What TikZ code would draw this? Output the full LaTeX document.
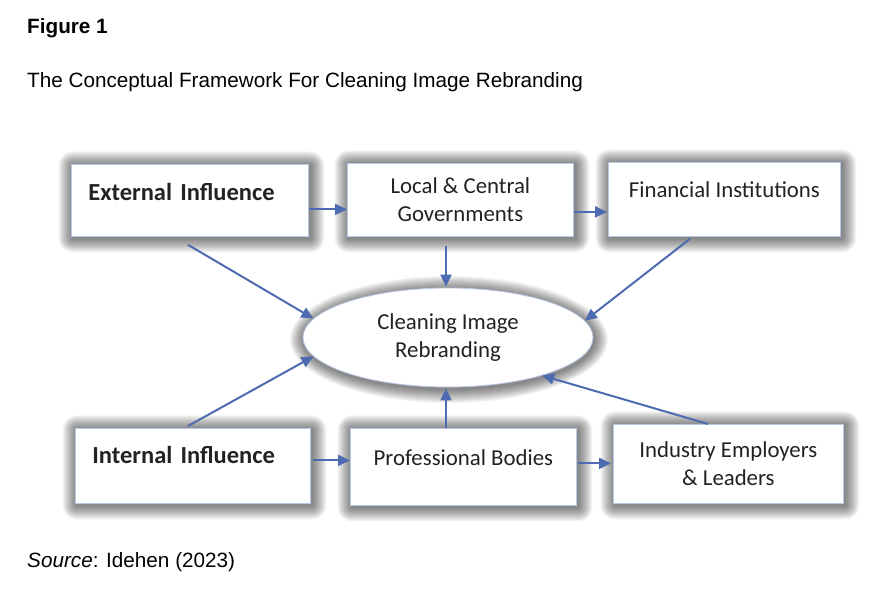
\documentclass[tikz,border=0pt]{standalone}
\usepackage{fontspec}
\setmainfont{Liberation Sans}
\newfontfamily\carl{Carlito}
\usetikzlibrary{backgrounds,arrows.meta,calc,shapes.geometric}
\definecolor{arrowc}{HTML}{4E6AB0}
\definecolor{bordc}{HTML}{B7C8E6}
\definecolor{txtc}{HTML}{222222}
\newcommand\boxshadow[1]{%
  \begin{scope}[on background layer]
  \foreach \k in {1,...,14}{%
    \fill[black,opacity=0.042,rounded corners=\k pt]
      ($(#1.north west)+(-\k+1.5,-\k+1.5)$) rectangle ($(#1.south east)+(\k+1.5,\k+1.5)$);
  }
  \end{scope}}
\begin{document}
\begin{tikzpicture}[x=1pt,y=-1pt,
  box/.style={draw=bordc,line width=0.8pt,fill=white,anchor=north west,inner sep=0pt,
    text=txtc,font=\carl\fontsize{22.8}{28.5}\selectfont,align=center},
  boldbox/.style={box,font=\carl\bfseries\fontsize{24.5}{29}\selectfont,align=left},
  conn/.style={draw=arrowc,line width=2pt,-{Triangle[length=12pt,width=11pt]}},
  plain/.style={anchor=base west,inner sep=0pt,text=black,font=\fontsize{20.7}{25}\selectfont}]
\useasboundingbox (0,0) rectangle (895,593);

\node[plain,font=\bfseries\fontsize{20.7}{25}\selectfont] (fig) at (27,33.3) {Figure 1};
\node[plain] (title) at (27,87.3) {The Conceptual Framework For Cleaning Image Rebranding};
\node[plain] (src) at (27,567.3) {\textit{Source}: Idehen (2023)};

\node[boldbox,minimum width=237,minimum height=72,text width=203,text height=18,text depth=18] (ext) at (71,164) {External Influence};
\node[box,minimum width=226,minimum height=73] (loc) at (347,163) {Local \& Central\\Governments};
\node[box,minimum width=232,minimum height=74,text height=16,text depth=20] (fin) at (608,162) {Financial Institutions};

\node[draw=bordc,line width=0.8pt,fill=white,ellipse,inner sep=0pt,minimum width=290,minimum height=99,
  text=txtc,font=\carl\fontsize{22.8}{28.5}\selectfont,align=center] (ell) at (448,337.5) {Cleaning Image\\Rebranding};

\node[boldbox,minimum width=235,minimum height=75,text width=201,text height=16,text depth=21,inner xsep=0pt] (int) at (75,428) {Internal Influence};
\node[box,minimum width=226,minimum height=77,text height=16,text depth=19] (prof) at (350,428) {Professional Bodies};
\node[box,minimum width=230,minimum height=79] (ind) at (613,424) {Industry Employers\\\& Leaders};

\boxshadow{ext}\boxshadow{loc}\boxshadow{fin}
\boxshadow{int}\boxshadow{prof}\boxshadow{ind}
\begin{scope}[on background layer]
\foreach \k in {1,...,14}{%
  \fill[black,opacity=0.042] ($(ell.center)+(1,2)$) ellipse [x radius=145+\k, y radius=49.5+\k];
}
\end{scope}

% horizontal arrows
\coordinate (h1) at ($(ext.east)+(0,9)$);
\coordinate (h2) at ($(loc.east)+(0,12)$);
\coordinate (h3) at ($(int.east)+(2,-5.5)$);
\coordinate (h4) at ($(prof.east)+(1,-3.5)$);
\draw[conn] (h1) -- (h1 -| loc.west);
\draw[conn] (h2) -- ($(h2 -| fin.west)+(-1,0)$);
\draw[conn] (h3) -- (h3 -| prof.west);
\draw[conn] (h4) -- ($(h4 -| ind.west)+(-2,0)$);
% arrows to ellipse
\draw[conn] ($(loc.south -| ell.north)+(-2,9)$) -- ($(ell.north)+(-2,-1)$);
\draw[conn] ($(prof.north -| ell.south)+(-2,0)$) -- ($(ell.south)+(-2,1)$);
\draw[conn] ($(ext.south west)+(117,8)$) -- (ell.172);
\draw[conn] ($(fin.south west)+(82,2)$) -- (ell.7);
\draw[conn] ($(int.north west)+(113,-2)$) -- (ell.188);
\draw[conn] ($(ind.north west)+(95,0)$) -- (ell.338);
\end{tikzpicture}
\end{document}
